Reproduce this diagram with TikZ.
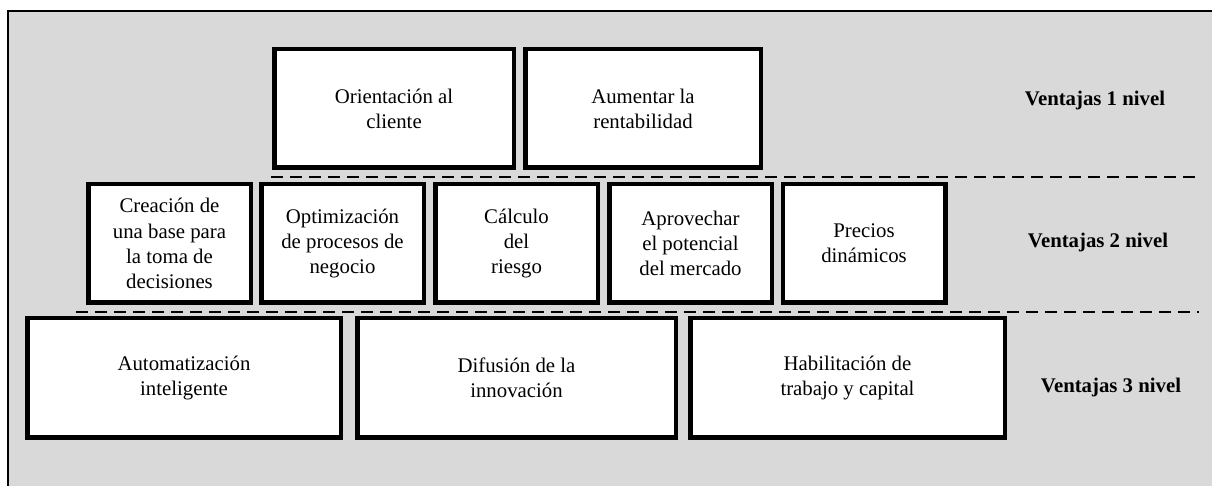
\documentclass[tikz,border=0pt]{standalone}
\usepackage{fontspec}
\setmainfont{Liberation Serif}
\definecolor{fondo}{RGB}{217,217,217}

\begin{document}
\begin{tikzpicture}[x=0.5pt, y=-0.5pt,
    caja/.style={draw, line width=2.25pt, fill=white, align=center, inner sep=0pt,
      font=\fontsize{10.4}{12.6}\selectfont},
    nivel/.style={font=\fontsize{10.4}{12.6}\selectfont\bfseries},
    divisoria/.style={line width=1.3pt, dash pattern=on 6pt off 3.5pt}]
    \useasboundingbox (0,0) rectangle (1212,486);
    \fill[fondo] (8,11) rectangle (1212,486);
    \draw[line width=1pt] (8,486) -- (8,11) -- (1212,11);

    % Nivel 1
    \node[caja, minimum width=119.75pt, minimum height=59.25pt] (orientacion) at (394,108.5) {Orientación al\\cliente};
    \node[caja, minimum width=117.75pt, minimum height=59.25pt] (rentabilidad) at (643,108.5) {Aumentar la\\rentabilidad};

    % Nivel 2
    \node[caja, minimum width=81.25pt, minimum height=59.25pt] (creacion) at (169.5,243.5) {Creación de\\una base para\\la toma de\\decisiones};
    \node[caja, minimum width=81.25pt, minimum height=59.25pt] (optimizacion) at (342.5,243.5) {Optimización\\de procesos de\\negocio};
    \node[caja, minimum width=81.25pt, minimum height=59.25pt] (riesgo) at (516.5,243.5) {Cálculo\\del\\riesgo};
    \node[caja, minimum width=81.25pt, minimum height=59.25pt] (mercado) at (690.5,243.5) {Aprovechar\\el potencial\\del mercado};
    \node[caja, minimum width=81.25pt, minimum height=59.25pt] (precios) at (864,243.5) {Precios\\dinámicos};

    % Nivel 3
    \node[caja, minimum width=156.75pt, minimum height=59.75pt] (automatizacion) at (184,378) {Automatización\\inteligente};
    \node[caja, minimum width=159.25pt, minimum height=59.75pt] (difusion) at (516.5,378) {Difusión de la\\innovación};
    \node[caja, minimum width=157.25pt, minimum height=59.75pt] (habilitacion) at (847.5,378) {Habilitación de\\trabajo y capital};

    % Separadores
    \draw[divisoria] (271,177) -- (1199,177);
    \draw[divisoria] (76,312) -- (1199,312);

    \node[nivel] (v1) at (1095,101) {Ventajas 1 nivel};
    \node[nivel] (v2) at (1098,243) {Ventajas 2 nivel};
    \node[nivel] (v3) at (1111,388) {Ventajas 3 nivel};
\end{tikzpicture}
\end{document}
